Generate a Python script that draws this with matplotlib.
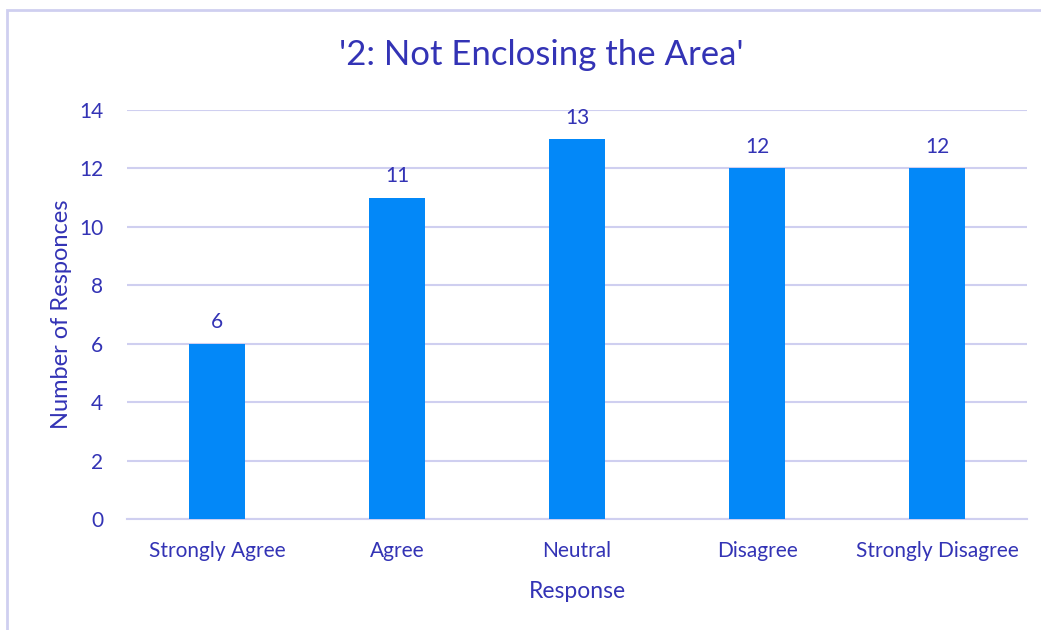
import matplotlib.pyplot as plt
from matplotlib.patches import Rectangle

categories = ['Strongly Agree', 'Agree', 'Neutral', 'Disagree', 'Strongly Disagree']
counts = [6, 11, 13, 12, 12]
yticks = [0, 2, 4, 6, 8, 10, 12, 14]

text_color = '#3333B5'
grid_color = '#CFCFF0'
bar_color = '#0388F8'

plt.rcParams['font.family'] = ['Lato', 'DejaVu Sans']

fig = plt.figure(figsize=(10.41, 6.30), dpi=100)
ax = fig.add_axes([0.122, 0.1762, 0.8646, 0.6492])

x = range(len(categories))
bars = ax.bar(x, counts, width=0.31, color=bar_color, zorder=3)
for b, v in zip(bars, counts):
    ax.text(b.get_x() + b.get_width() / 2, v + 0.4, str(v), ha='center', va='bottom',
            fontsize=15, color=text_color)

ax.set_xlim(-0.5, len(categories) - 0.5)
ax.set_ylim(0, 14)
ax.set_yticks(yticks)
ax.set_xticks(list(x))
ax.set_xticklabels(categories)
ax.tick_params(axis='both', length=0, colors=text_color, labelsize=15)
ax.tick_params(axis='x', pad=16)
ax.tick_params(axis='y', pad=17)
ax.yaxis.grid(True, color=grid_color, linewidth=1.5, zorder=0)
ax.set_axisbelow(True)
for s in ['top', 'right', 'left']:
    ax.spines[s].set_visible(False)
ax.spines['bottom'].set_color(grid_color)
ax.spines['bottom'].set_linewidth(1.5)

ax.set_xlabel('Response', fontsize=16.5, color=text_color, labelpad=14)
ax.set_ylabel('Number of Responces', fontsize=17, color=text_color, labelpad=5)
fig.text(0.52, 0.913, "'2: Not Enclosing the Area'", ha='center', va='center',
         fontsize=25, color=text_color)

fig.patches.append(Rectangle((7 / 1041, -0.1), 1.2, (630 - 10) / 630 + 0.1,
                             transform=fig.transFigure, fill=False,
                             edgecolor=grid_color, linewidth=2))

fig.savefig('out.png', dpi=100)
